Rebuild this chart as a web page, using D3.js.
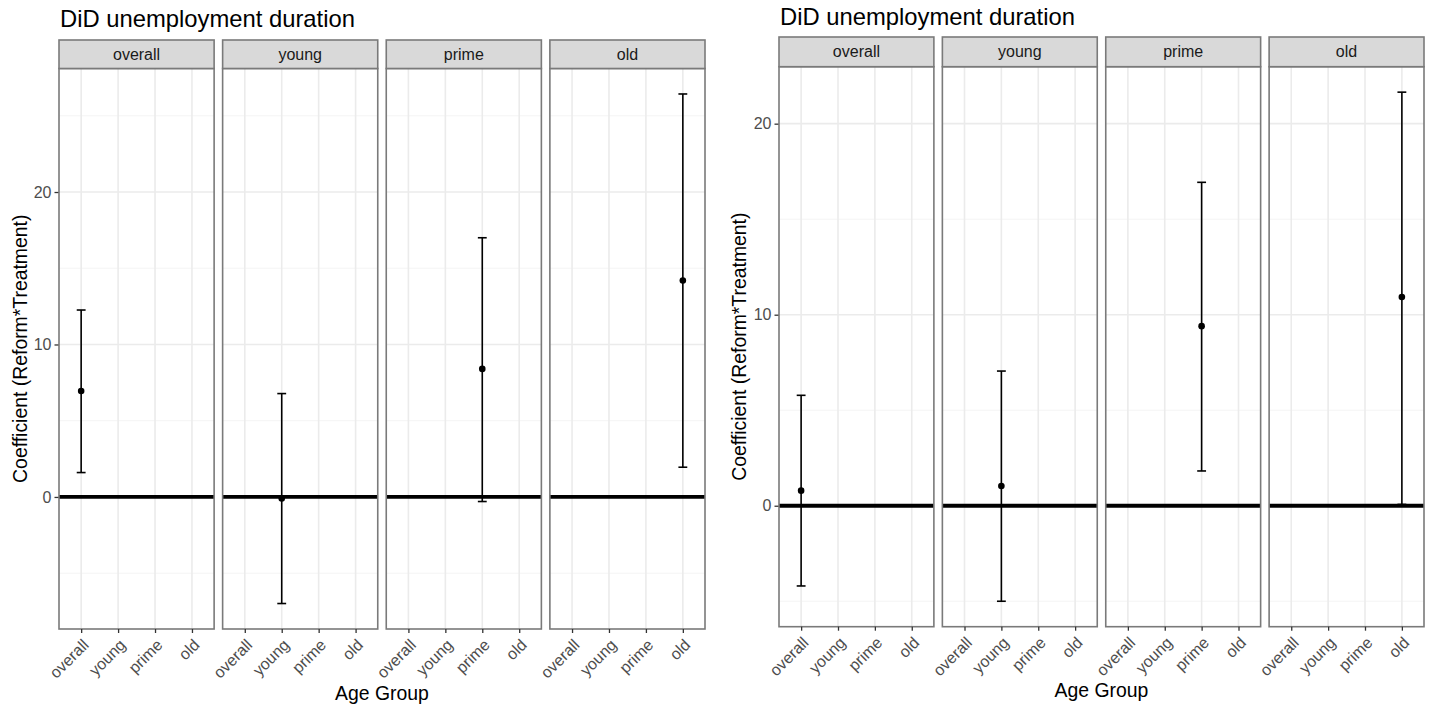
<!DOCTYPE html>
<html>
<head>
<meta charset="utf-8">
<script src="https://cdn.jsdelivr.net/npm/d3@7"></script>
<style>
  html, body { margin: 0; padding: 0; background: #fff; }
  svg { display: block; font-family: "Liberation Sans", Arial, sans-serif; }
</style>
</head>
<body>
<svg id="chart" width="1434" height="709"></svg>
<script>
// ---- data ----
const categories = ["overall", "young", "prime", "old"];
const chartTitle = "DiD unemployment duration";
const yAxisTitle = "Coefficient (Reform*Treatment)";
const xAxisTitle = "Age Group";

// left chart
const leftEstimate = [6.95, -0.1, 8.4, 14.2];
const leftLower    = [1.6, -6.99, -0.3, 1.95];
const leftUpper    = [12.26, 6.78, 17.0, 26.43];
const leftMajorTicks = [0, 10, 20];
const leftMinorTicks = [-5, 5, 15, 25];

// right chart
const rightEstimate = [0.79, 1.03, 9.4, 10.93];
const rightLower    = [-4.2, -5.0, 1.82, 0.07];
const rightUpper    = [5.78, 7.05, 16.93, 21.65];
const rightMajorTicks = [0, 10, 20];
const rightMinorTicks = [-5, 5, 15];

// ---- drawing ----
const svg = d3.select("#chart");
const FONT_SMALL = 16, FONT_BASE = 19.4, FONT_TITLE = 23.8;

const charts = [
  { est: leftEstimate, lo: leftLower, hi: leftUpper, major: leftMajorTicks, minor: leftMinorTicks,
    x0: 59, x1: 705, stripTop: 40, panelTop: 68.5, panelBottom: 629,
    titleX: 60, titleY: 27, yTitleX: 27, xTitleY: 700 },
  { est: rightEstimate, lo: rightLower, hi: rightUpper, major: rightMajorTicks, minor: rightMinorTicks,
    x0: 779, x1: 1424, stripTop: 37, panelTop: 66.7, panelBottom: 626.7,
    titleX: 780, titleY: 25, yTitleX: 746, xTitleY: 697 }
];

charts.forEach(c => drawChart(c));

function drawChart(c) {
  const rows = categories.map((cat, i) => ({ cat, est: c.est[i], lo: c.lo[i], hi: c.hi[i] }));
  const dmin = d3.min(rows, d => d.lo), dmax = d3.max(rows, d => d.hi);
  const pad = (dmax - dmin) * 0.05;
  const y = d3.scaleLinear().domain([dmin - pad, dmax + pad]).range([c.panelBottom, c.panelTop]);

  const facet = d3.scaleBand().domain(categories).range([c.x0, c.x1]).paddingInner(8.5 / 163.5).paddingOuter(0);
  const w = facet.bandwidth();
  const x = d3.scalePoint().domain(categories).range([0, w]).padding(0.6);
  const unit = x.step();

  const g = svg.append("g");

  // title
  g.append("text").attr("x", c.titleX).attr("y", c.titleY)
    .attr("font-size", FONT_TITLE).attr("fill", "#000").text(chartTitle);

  // y axis title
  g.append("text")
    .attr("transform", `translate(${c.yTitleX},${(c.panelTop + c.panelBottom) / 2}) rotate(-90)`)
    .attr("text-anchor", "middle").attr("font-size", FONT_BASE).attr("fill", "#000").text(yAxisTitle);

  // x axis title
  g.append("text").attr("x", (c.x0 + c.x1) / 2).attr("y", c.xTitleY)
    .attr("text-anchor", "middle").attr("font-size", FONT_BASE).attr("fill", "#000").text(xAxisTitle);

  // y axis (left of first panel)
  const yAxis = g.append("g").attr("transform", `translate(${c.x0},0)`)
    .call(d3.axisLeft(y).tickValues(c.major).tickSize(4.5).tickPadding(3).tickSizeOuter(0));
  yAxis.select(".domain").remove();
  yAxis.selectAll(".tick line").attr("stroke", "#333").attr("stroke-width", 1.3);
  yAxis.selectAll(".tick text").attr("fill", "#4d4d4d").attr("font-size", FONT_SMALL)
    .attr("font-family", "'Liberation Sans', Arial, sans-serif");

  categories.forEach(fc => {
    const px = facet(fc);
    const pg = g.append("g").attr("transform", `translate(${px},0)`);
    const ph = c.panelBottom - c.panelTop;

    pg.append("rect").attr("x", 0).attr("y", c.panelTop).attr("width", w).attr("height", ph).attr("fill", "#fff");

    // minor horizontal grid
    pg.selectAll(".minor").data(c.minor).enter().append("line")
      .attr("x1", 0).attr("x2", w).attr("y1", d => y(d)).attr("y2", d => y(d))
      .attr("stroke", "#f4f4f4").attr("stroke-width", 1);
    // major horizontal grid
    pg.selectAll(".majorh").data(c.major).enter().append("line")
      .attr("x1", 0).attr("x2", w).attr("y1", d => y(d)).attr("y2", d => y(d))
      .attr("stroke", "#ebebeb").attr("stroke-width", 1.6);
    // major vertical grid
    pg.selectAll(".majorv").data(categories).enter().append("line")
      .attr("x1", d => x(d)).attr("x2", d => x(d)).attr("y1", c.panelTop).attr("y2", c.panelBottom)
      .attr("stroke", "#ebebeb").attr("stroke-width", 1.6);

    // zero line
    pg.append("line").attr("x1", 0).attr("x2", w).attr("y1", y(0)).attr("y2", y(0))
      .attr("stroke", "#000").attr("stroke-width", 3.8);

    // errorbar + point for this facet
    const d = rows.find(r => r.cat === fc);
    const cx = x(d.cat), cap = unit * 0.24 / 2;
    pg.append("line").attr("x1", cx).attr("x2", cx).attr("y1", y(d.lo)).attr("y2", y(d.hi))
      .attr("stroke", "#000").attr("stroke-width", 1.6);
    [d.lo, d.hi].forEach(v => {
      pg.append("line").attr("x1", cx - cap).attr("x2", cx + cap).attr("y1", y(v)).attr("y2", y(v))
        .attr("stroke", "#000").attr("stroke-width", 1.6);
    });
    pg.append("circle").attr("cx", cx).attr("cy", y(d.est)).attr("r", 3.3).attr("fill", "#000");

    // panel border
    pg.append("rect").attr("x", 0).attr("y", c.panelTop).attr("width", w).attr("height", ph)
      .attr("fill", "none").attr("stroke", "#7a7a7a").attr("stroke-width", 1.6);

    // strip
    pg.append("rect").attr("x", 0).attr("y", c.stripTop).attr("width", w).attr("height", c.panelTop - c.stripTop)
      .attr("fill", "#d9d9d9").attr("stroke", "#7a7a7a").attr("stroke-width", 1.6);
    pg.append("text").attr("x", w / 2).attr("y", (c.stripTop + c.panelTop) / 2).attr("dy", "0.35em")
      .attr("text-anchor", "middle").attr("font-size", FONT_SMALL).attr("fill", "#1a1a1a").text(fc);

    // x axis
    const xa = pg.append("g").attr("transform", `translate(0,${c.panelBottom})`)
      .call(d3.axisBottom(x).tickSize(4).tickSizeOuter(0));
    xa.select(".domain").remove();
    xa.selectAll(".tick line").attr("stroke", "#333").attr("stroke-width", 1.3);
    xa.selectAll(".tick text")
      .attr("fill", "#4d4d4d").attr("font-size", FONT_SMALL)
      .attr("font-family", "'Liberation Sans', Arial, sans-serif")
      .attr("text-anchor", "end").attr("dy", null).attr("y", null)
      .attr("transform", "translate(8,17) rotate(-45)");
  });
}
</script>
</body>
</html>
